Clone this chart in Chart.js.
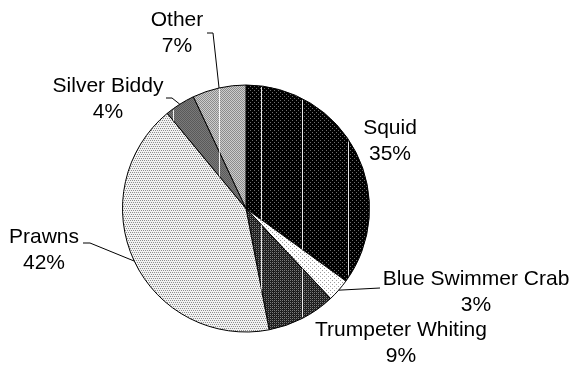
<!DOCTYPE html>
<html>
<head>
<meta charset="utf-8">
<script src="https://cdn.jsdelivr.net/npm/chart.js@4/dist/chart.umd.min.js"></script>
<style>
  html, body { margin: 0; padding: 0; background: #fff; }
  #wrap { width: 569px; height: 377px; }
</style>
</head>
<body>
<div id="wrap"><canvas id="c" width="569" height="377"></canvas></div>
<script>
// Catch composition by species (% of total)
const categories = ['Squid', 'Blue Swimmer Crab', 'Trumpeter Whiting', 'Prawns', 'Silver Biddy', 'Other'];
const shares = [35, 3, 9, 42, 4, 7];
const shareLabels = shares.map(v => v + '%');

// Label placement: text centre (first line) and the leader path toward the slice
const labelLayout = [
  { x: 390, y: 128, lead: null },
  { x: 476, y: 279, lead: [[380, 288]] },
  { x: 401, y: 330, lead: null },
  { x: 44,  y: 237, lead: [[83, 243], [90, 243]] },
  { x: 108, y: 86,  lead: [[166, 98], [172, 98]] },
  { x: 177, y: 20,  lead: [[207, 33], [213, 33]] }
];
const lineGap = 26;

// Monochrome fill patterns, one per slice
function makePattern(size, bg, dots) {
  const c = document.createElement('canvas');
  c.width = size; c.height = size;
  const g = c.getContext('2d');
  g.fillStyle = bg; g.fillRect(0, 0, size, size);
  dots.forEach(([x, y, col]) => { g.fillStyle = col; g.fillRect(x, y, 1, 1); });
  return document.getElementById('c').getContext('2d').createPattern(c, 'repeat');
}
const fills = [
  makePattern(4, '#000000', [[0, 0, '#6e6e6e'], [2, 2, '#6e6e6e']]),
  makePattern(4, '#ffffff', [[0, 0, '#9a9a9a'], [2, 2, '#9a9a9a']]),
  makePattern(4, '#1c1c1c', [[0, 0, '#7c7c7c'], [2, 0, '#7c7c7c'], [0, 2, '#7c7c7c'], [2, 2, '#7c7c7c'], [1, 1, '#3a3a3a'], [3, 3, '#3a3a3a']]),
  makePattern(4, '#f2f2f2', [[0, 0, '#8e8e8e'], [2, 0, '#8e8e8e'], [1, 2, '#8e8e8e'], [3, 2, '#8e8e8e']]),
  makePattern(2, '#5a5a5a', [[1, 0, '#7a7a7a'], [0, 1, '#7a7a7a']]),
  makePattern(2, '#8c8c8c', [[1, 0, '#cdcdcd'], [0, 1, '#cdcdcd']])
];

// Thin white rules showing through the darker fills
const ruleXs = [173, 219, 261, 302, 348];
const ruledSlices = [0, 2, 4, 5];
const rulesPlugin = {
  id: 'rules',
  afterDatasetsDraw(chart) {
    const ctx = chart.ctx;
    const arcs = chart.getDatasetMeta(0).data;
    ruledSlices.forEach(i => {
      const a = arcs[i];
      ctx.save();
      ctx.beginPath();
      ctx.moveTo(a.x, a.y);
      ctx.arc(a.x, a.y, a.outerRadius - 1, a.startAngle, a.endAngle);
      ctx.closePath();
      ctx.clip();
      ctx.strokeStyle = 'rgba(255,255,255,0.9)';
      ctx.lineWidth = 1;
      ruleXs.forEach(x => {
        ctx.beginPath();
        ctx.moveTo(x + 0.5, a.y - a.outerRadius);
        ctx.lineTo(x + 0.5, a.y + a.outerRadius);
        ctx.stroke();
      });
      ctx.restore();
    });
  }
};

// Category name + percentage, with leader lines to the slice edge
const labelPlugin = {
  id: 'sliceLabels',
  afterDraw(chart) {
    const ctx = chart.ctx;
    const arcs = chart.getDatasetMeta(0).data;
    ctx.save();
    ctx.font = '21px "Liberation Sans", Arial, sans-serif';
    ctx.fillStyle = '#000';
    ctx.textAlign = 'center';
    ctx.textBaseline = 'middle';
    ctx.strokeStyle = '#000';
    ctx.lineWidth = 1;
    arcs.forEach((a, i) => {
      const L = labelLayout[i];
      if (L.lead) {
        const mid = (a.startAngle + a.endAngle) / 2;
        const ex = a.x + Math.cos(mid) * a.outerRadius;
        const ey = a.y + Math.sin(mid) * a.outerRadius;
        ctx.beginPath();
        ctx.moveTo(L.lead[0][0], L.lead[0][1]);
        for (let k = 1; k < L.lead.length; k++) ctx.lineTo(L.lead[k][0], L.lead[k][1]);
        ctx.lineTo(ex, ey);
        ctx.stroke();
      }
      ctx.fillText(categories[i], L.x, L.y);
      ctx.fillText(shareLabels[i], L.x, L.y + lineGap);
    });
    ctx.restore();
  }
};

new Chart(document.getElementById('c'), {
  type: 'pie',
  data: {
    labels: categories,
    datasets: [{
      data: shares,
      backgroundColor: fills,
      borderColor: '#000',
      borderWidth: 1,
      hoverOffset: 0
    }]
  },
  options: {
    responsive: false,
    animation: false,
    events: [],
    layout: { padding: { left: 122, right: 199, top: 84, bottom: 44 } },
    plugins: {
      legend: { display: false },
      tooltip: { enabled: false }
    }
  },
  plugins: [rulesPlugin, labelPlugin]
});
</script>
</body>
</html>
